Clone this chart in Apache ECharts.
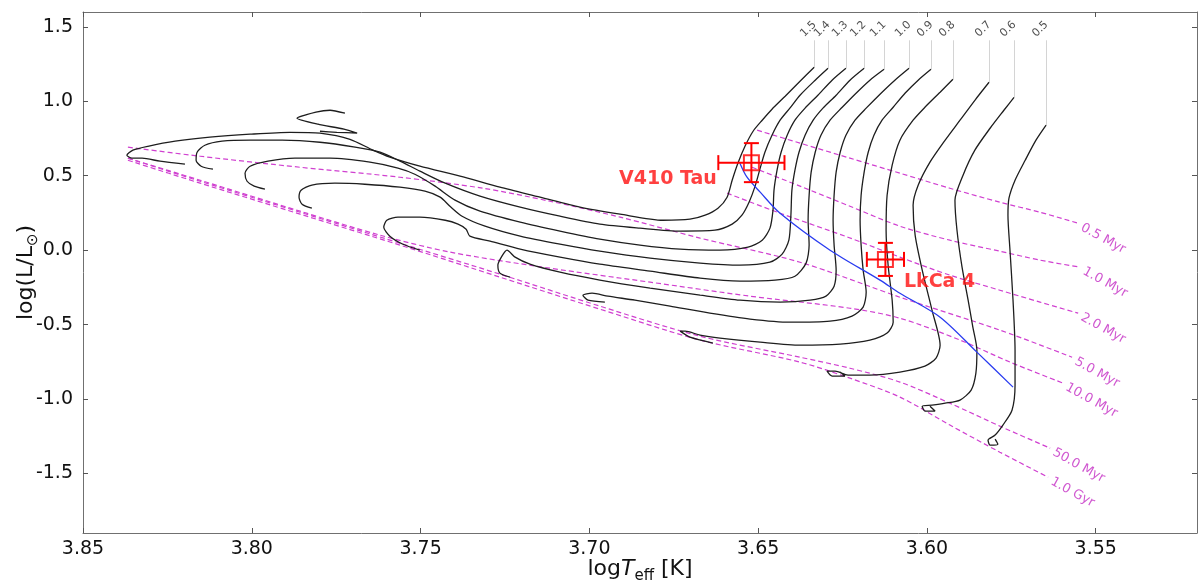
<!DOCTYPE html>
<html><head><meta charset="utf-8">
<script src="https://cdn.jsdelivr.net/npm/echarts@6/dist/echarts.min.js"></script>
<style>html,body{margin:0;padding:0;background:#fff}#c{width:1200px;height:588px}</style>
</head><body><div id="c"></div>
<script>
// ---- axis ticks ----
const xTicks = [3.85, 3.80, 3.75, 3.70, 3.65, 3.60, 3.55];
const yTicks = [-1.5, -1.0, -0.5, 0.0, 0.5, 1.0, 1.5];

// ---- evolutionary tracks: [logTeff, logL] ----
const massLabels = ['1.5','1.4','1.3','1.2','1.1','1.0','0.9','0.8','0.7','0.6','0.5'];
const track15 = [[3.6334,1.229],[3.6376,1.135],[3.6420,1.034],[3.6459,0.947],[3.6488,0.873],[3.6515,0.799],[3.6539,0.698],[3.6560,0.584],[3.6577,0.470],[3.6592,0.356],[3.6619,0.282],[3.6657,0.235],[3.6702,0.208],[3.6782,0.201],[3.6909,0.242],[3.7028,0.289],[3.7146,0.356],[3.7265,0.423],[3.7383,0.497],[3.7502,0.564],[3.7591,0.625],[3.7641,0.672],[3.7709,0.745],[3.7798,0.786],[3.7887,0.792],[3.8005,0.779],[3.8124,0.759],[3.8227,0.732],[3.8308,0.698],[3.8352,0.672],[3.8370,0.638],[3.8355,0.618],[3.8325,0.618],[3.8272,0.598],[3.8198,0.578]];
const track15Hook = [[3.7724,0.920],[3.7768,0.940],[3.7810,0.927],[3.7866,0.886],[3.7804,0.846],[3.7727,0.813],[3.7688,0.786],[3.7748,0.792],[3.7798,0.799]];
const track14 = [[3.6293,1.222],[3.6331,1.142],[3.6376,1.041],[3.6406,0.954],[3.6435,0.873],[3.6459,0.772],[3.6480,0.658],[3.6494,0.551],[3.6509,0.430],[3.6527,0.322],[3.6548,0.235],[3.6577,0.175],[3.6628,0.134],[3.6731,0.128],[3.6850,0.148],[3.6969,0.175],[3.7087,0.228],[3.7205,0.289],[3.7324,0.363],[3.7427,0.450],[3.7502,0.531],[3.7561,0.598],[3.7620,0.658],[3.7694,0.692],[3.7798,0.725],[3.7910,0.739],[3.8005,0.739],[3.8088,0.732],[3.8139,0.705],[3.8162,0.658],[3.8165,0.604],[3.8150,0.564],[3.8115,0.544]];
const track13 = [[3.6240,1.222],[3.6281,1.142],[3.6323,1.041],[3.6361,0.954],[3.6391,0.873],[3.6414,0.772],[3.6432,0.658],[3.6444,0.537],[3.6453,0.403],[3.6456,0.269],[3.6465,0.148],[3.6488,0.067],[3.6530,0.020],[3.6613,0.000],[3.6731,0.007],[3.6850,0.034],[3.6969,0.074],[3.7087,0.128],[3.7205,0.188],[3.7324,0.262],[3.7398,0.336],[3.7457,0.430],[3.7517,0.510],[3.7567,0.551],[3.7650,0.591],[3.7768,0.618],[3.7872,0.618],[3.7952,0.598],[3.8005,0.564],[3.8020,0.517],[3.8014,0.463],[3.7993,0.430],[3.7961,0.410]];
const track12 = [[3.6186,1.222],[3.6228,1.142],[3.6269,1.041],[3.6308,0.954],[3.6337,0.873],[3.6361,0.772],[3.6379,0.658],[3.6391,0.537],[3.6400,0.403],[3.6403,0.235],[3.6409,0.067],[3.6429,-0.027],[3.6465,-0.081],[3.6554,-0.101],[3.6672,-0.087],[3.6820,-0.054],[3.6969,-0.007],[3.7087,0.040],[3.7205,0.094],[3.7309,0.161],[3.7377,0.228],[3.7413,0.295],[3.7442,0.356],[3.7487,0.396],[3.7561,0.423],[3.7665,0.443],[3.7754,0.450],[3.7822,0.437],[3.7854,0.403],[3.7860,0.356],[3.7851,0.309],[3.7822,0.282]];
const track11 = [[3.6127,1.215],[3.6169,1.142],[3.6213,1.048],[3.6251,0.960],[3.6287,0.873],[3.6314,0.772],[3.6331,0.658],[3.6343,0.524],[3.6349,0.369],[3.6352,0.201],[3.6349,0.034],[3.6358,-0.087],[3.6391,-0.175],[3.6450,-0.201],[3.6554,-0.208],[3.6672,-0.188],[3.6820,-0.141],[3.6969,-0.094],[3.7087,-0.047],[3.7205,0.007],[3.7294,0.060],[3.7354,0.094],[3.7365,0.141],[3.7389,0.175],[3.7427,0.201],[3.7502,0.222],[3.7567,0.222],[3.7600,0.201],[3.7609,0.154],[3.7591,0.094],[3.7552,0.040],[3.7502,0.000]];
const track10 = [[3.6053,1.222],[3.6095,1.142],[3.6139,1.048],[3.6180,0.954],[3.6213,0.873],[3.6240,0.772],[3.6257,0.658],[3.6269,0.524],[3.6275,0.369],[3.6278,0.201],[3.6275,0.034],[3.6269,-0.134],[3.6275,-0.242],[3.6299,-0.309],[3.6346,-0.336],[3.6435,-0.349],[3.6554,-0.336],[3.6672,-0.302],[3.6820,-0.255],[3.6969,-0.201],[3.7087,-0.148],[3.7176,-0.094],[3.7220,-0.047],[3.7244,0.000],[3.7259,-0.040],[3.7271,-0.101],[3.7265,-0.154],[3.7235,-0.181]];
const track09 = [[3.5988,1.215],[3.6026,1.142],[3.6065,1.054],[3.6100,0.960],[3.6133,0.873],[3.6157,0.772],[3.6174,0.658],[3.6186,0.524],[3.6195,0.369],[3.6198,0.201],[3.6195,0.034],[3.6189,-0.134],[3.6180,-0.282],[3.6189,-0.383],[3.6222,-0.443],[3.6287,-0.477],[3.6406,-0.484],[3.6524,-0.463],[3.6643,-0.423],[3.6761,-0.376],[3.6865,-0.336],[3.6945,-0.309],[3.6992,-0.289],[3.7019,-0.302],[3.7004,-0.336],[3.6954,-0.349]];
const track08 = [[3.5923,1.148],[3.5961,1.061],[3.6006,0.960],[3.6041,0.873],[3.6080,0.739],[3.6103,0.571],[3.6118,0.369],[3.6121,0.134],[3.6115,-0.101],[3.6103,-0.336],[3.6100,-0.484],[3.6118,-0.557],[3.6169,-0.604],[3.6257,-0.631],[3.6376,-0.638],[3.6494,-0.618],[3.6613,-0.591],[3.6672,-0.571],[3.6716,-0.544],[3.6731,-0.544],[3.6702,-0.584],[3.6634,-0.624]];
const track07 = [[3.5816,1.128],[3.5858,1.007],[3.5902,0.873],[3.5946,0.739],[3.5991,0.591],[3.6026,0.436],[3.6041,0.302],[3.6035,0.101],[3.6014,-0.134],[3.5985,-0.403],[3.5961,-0.638],[3.5973,-0.725],[3.6006,-0.779],[3.6080,-0.819],[3.6169,-0.839],[3.6234,-0.839],[3.6272,-0.813],[3.6296,-0.813],[3.6281,-0.846],[3.6243,-0.846],[3.6257,-0.819]];
const track06 = [[3.5742,1.027],[3.5772,0.940],[3.5813,0.819],[3.5858,0.672],[3.5893,0.504],[3.5917,0.336],[3.5911,0.134],[3.5896,-0.114],[3.5878,-0.336],[3.5864,-0.517],[3.5852,-0.672],[3.5855,-0.826],[3.5869,-0.940],[3.5902,-1.007],[3.5946,-1.028],[3.5985,-1.041],[3.6014,-1.048],[3.6006,-1.081],[3.5976,-1.081],[3.5991,-1.048]];
const track05 = [[3.5647,0.840],[3.5677,0.739],[3.5709,0.604],[3.5739,0.470],[3.5757,0.349],[3.5760,0.235],[3.5754,0.000],[3.5745,-0.336],[3.5739,-0.672],[3.5739,-0.907],[3.5748,-1.075],[3.5775,-1.175],[3.5798,-1.242],[3.5819,-1.276],[3.5813,-1.310],[3.5790,-1.303],[3.5798,-1.269]];

// ---- isochrones ----
const ageLabels = ['0.5 Myr','1.0 Myr','2.0 Myr','5.0 Myr','10.0 Myr','50.0 Myr','1.0 Gyr'];
const iso0p5 = [[3.6503,0.806],[3.6376,0.719],[3.6228,0.618],[3.6080,0.517],[3.5932,0.416],[3.5784,0.322],[3.5665,0.255],[3.5552,0.181]];
const iso1 = [[3.6518,0.557],[3.6376,0.430],[3.6228,0.295],[3.6080,0.161],[3.5932,0.067],[3.5784,-0.007],[3.5665,-0.067],[3.5546,-0.114]];
const iso2 = [[3.6592,0.383],[3.6435,0.248],[3.6234,0.087],[3.6080,-0.047],[3.5932,-0.168],[3.5784,-0.269],[3.5665,-0.349],[3.5552,-0.423]];
const iso5 = [[3.8367,0.692],[3.8153,0.631],[3.7857,0.557],[3.7561,0.490],[3.7315,0.416],[3.7117,0.329],[3.6909,0.222],[3.6672,0.081],[3.6376,-0.081],[3.6080,-0.316],[3.5784,-0.537],[3.5570,-0.719]];
const iso10 = [[3.8367,0.618],[3.8153,0.470],[3.7857,0.262],[3.7620,0.101],[3.7413,-0.013],[3.7117,-0.121],[3.6820,-0.215],[3.6524,-0.309],[3.6228,-0.390],[3.6080,-0.457],[3.5902,-0.604],[3.5754,-0.752],[3.5597,-0.893]];
const iso50 = [[3.8367,0.618],[3.8153,0.463],[3.7857,0.255],[3.7561,0.047],[3.7265,-0.161],[3.6969,-0.376],[3.6672,-0.578],[3.6376,-0.719],[3.6228,-0.793],[3.6080,-0.886],[3.5932,-1.028],[3.5784,-1.182],[3.5635,-1.330]];
const iso1000 = [[3.8367,0.604],[3.8153,0.450],[3.7857,0.242],[3.7561,0.034],[3.7265,-0.181],[3.6969,-0.396],[3.6672,-0.604],[3.6376,-0.752],[3.6228,-0.860],[3.6080,-0.987],[3.5932,-1.175],[3.5784,-1.357],[3.5641,-1.525]];

// ---- blue line ----
const blueLine = [[3.6554,0.584],[3.6533,0.490],[3.6494,0.390],[3.6435,0.248],[3.6287,0.000],[3.6139,-0.201],[3.6080,-0.289],[3.5961,-0.450],[3.5852,-0.685],[3.5745,-0.920]];

// ---- stars ----
const starNames = ['V410 Tau', 'LkCa 4'];
const starTeff = [3.6520, 3.6123];
const starLum = [0.588, -0.062];
const starTeffErr = [0.0098, 0.0055];
const starLumErr = [0.131, 0.111];

// ---------------------------------------------------------
const tracks = [track15, track14, track13, track12, track11, track10, track09, track08, track07, track06, track05];
const isochrones = [iso0p5, iso1, iso2, iso5, iso10, iso50, iso1000];
const LEADER_TOP = 1.41;
const FONT = 'DejaVu Sans';
const MAG = '#c42ec4';

const series = [];
isochrones.forEach(d => series.push({
  type: 'line', data: d, showSymbol: false, smooth: 0.3, silent: true, z: 2,
  lineStyle: { color: '#d040d0', width: 1.2, type: [5, 3] }
}));
tracks.forEach(d => series.push({
  type: 'line', data: d, showSymbol: false, smooth: 0.25, silent: true, z: 3,
  lineStyle: { color: '#1e1e1e', width: 1.3 }
}));
series.push({ type: 'line', data: track15Hook, showSymbol: false, smooth: 0.2, silent: true, z: 3,
  lineStyle: { color: '#1e1e1e', width: 1.3 } });
series.push({ type: 'line', data: blueLine, showSymbol: false, smooth: 0.3, silent: true, z: 4,
  lineStyle: { color: '#2a3cf0', width: 1.3 } });
series.push({
  type: 'lines', coordinateSystem: 'cartesian2d', silent: true, z: 1,
  lineStyle: { color: '#d4d4d4', width: 1, opacity: 1 },
  data: tracks.map(t => ({ coords: [[t[0][0], LEADER_TOP], [t[0][0], t[0][1]]] }))
});
series.push({
  type: 'scatter', symbolSize: 1, itemStyle: { color: 'transparent' }, silent: true, z: 5,
  data: tracks.map((t, i) => ({ value: [t[0][0], LEADER_TOP], name: massLabels[i] })),
  label: { show: true, formatter: '{b}', rotate: 45, position: [-11.5, -4.5], align: 'left',
    verticalAlign: 'middle', fontSize: 11, fontFamily: FONT, color: '#222' }
});
series.push({
  type: 'scatter', symbolSize: 1, itemStyle: { color: 'transparent' }, silent: true, z: 5,
  data: isochrones.map((d, i) => ({ value: d[d.length - 1], name: ageLabels[i] })),
  label: { show: true, formatter: '{b}', rotate: -29, position: [4, 4], align: 'left',
    verticalAlign: 'middle', fontSize: 13, fontFamily: FONT, color: MAG }
});
series.push({
  type: 'custom', silent: true, z: 6,
  data: starNames.map((n, i) => [starTeff[i], starLum[i], starTeffErr[i], starLumErr[i]]),
  encode: { x: 0, y: 1 },
  renderItem: (params, api) => {
    const x = api.value(0), y = api.value(1), ex = api.value(2), ey = api.value(3);
    const pL = api.coord([x + ex, y]), pR = api.coord([x - ex, y]);
    const pT = api.coord([x, y + ey]), pB = api.coord([x, y - ey]);
    const c = 7.5, st = { stroke: '#ff0000', lineWidth: 2 };
    const ln = (x1, y1, x2, y2) => ({ type: 'line', shape: { x1, y1, x2, y2 }, style: st });
    return { type: 'group', children: [
      ln(pL[0], pL[1], pR[0], pR[1]), ln(pT[0], pT[1], pB[0], pB[1]),
      ln(pL[0], pL[1] - c, pL[0], pL[1] + c), ln(pR[0], pR[1] - c, pR[0], pR[1] + c),
      ln(pT[0] - c, pT[1], pT[0] + c, pT[1]), ln(pB[0] - c, pB[1], pB[0] + c, pB[1])
    ]};
  }
});
const starLabelPos = [{ position: [-26, 25], align: 'right' }, { position: [27, 31.5], align: 'left' }];
series.push({
  type: 'scatter', symbol: 'rect', symbolSize: 15, silent: true, z: 7,
  itemStyle: { color: 'rgba(0,0,0,0)', borderColor: '#ff0000', borderWidth: 2 },
  data: starNames.map((n, i) => ({
    value: [starTeff[i], starLum[i]], name: n,
    label: { show: true, formatter: '{b}', position: starLabelPos[i].position, align: starLabelPos[i].align,
      verticalAlign: 'middle', fontSize: 19, fontWeight: 'bold', fontFamily: FONT, color: '#ff1010' }
  }))
});

const frame = { show: true, onZero: false, lineStyle: { color: '#707070', width: 1 } };
const tickStyle = { color: '#555', width: 1 };

const option = {
  animation: false,
  backgroundColor: '#fff',
  textStyle: { fontFamily: FONT },
  grid: { left: 83, right: 3, top: 12, bottom: 55, containLabel: false, outerBoundsMode: 'none' },
  xAxis: [
    { type: 'value', min: 3.52, max: 3.85, inverse: true, position: 'bottom',
      axisLine: frame, splitLine: { show: false },
      axisTick: { show: true, inside: true, length: 5, customValues: xTicks, lineStyle: tickStyle },
      axisLabel: { customValues: xTicks, formatter: v => v.toFixed(2), fontSize: 19, color: '#111', margin: 7, fontFamily: FONT },
      name: 'log{it|T}{sub|eff} [K]', nameLocation: 'middle', nameGap: 21, nameMoveOverlap: false,
      nameTextStyle: { fontSize: 22, color: '#111', fontFamily: FONT, lineHeight: 30,
        rich: { it: { fontStyle: 'italic', fontSize: 22, fontFamily: FONT, color: '#111', lineHeight: 30 },
                sub: { fontSize: 15, fontFamily: FONT, color: '#111', verticalAlign: 'bottom', lineHeight: 16 } } }
    },
    { type: 'value', min: 3.52, max: 3.85, inverse: true, position: 'top',
      axisLine: frame, splitLine: { show: false },
      axisTick: { show: true, inside: true, length: 5, customValues: xTicks, lineStyle: tickStyle },
      axisLabel: { show: false } }
  ],
  yAxis: [
    { type: 'value', min: -1.9, max: 1.6, position: 'left',
      axisLine: frame, splitLine: { show: false },
      axisTick: { show: true, inside: true, length: 5, customValues: yTicks, lineStyle: tickStyle },
      axisLabel: { customValues: yTicks, formatter: v => v.toFixed(1), fontSize: 19, color: '#111', margin: 10, fontFamily: FONT },
      name: 'log(L/L{sub|⊙})', nameLocation: 'middle', nameGap: 42, nameMoveOverlap: false,
      nameTextStyle: { fontSize: 22, color: '#111', fontFamily: FONT, lineHeight: 30,
        rich: { sub: { fontSize: 15, fontFamily: FONT, color: '#111', verticalAlign: 'bottom', lineHeight: 16 } } }
    },
    { type: 'value', min: -1.9, max: 1.6, position: 'right',
      axisLine: frame, splitLine: { show: false },
      axisTick: { show: true, inside: true, length: 5, customValues: yTicks, lineStyle: tickStyle },
      axisLabel: { show: false } }
  ],
  series: series
};

const chart = echarts.init(document.getElementById('c'), null, { renderer: 'canvas' });
chart.setOption(option);
</script>
</body></html>
